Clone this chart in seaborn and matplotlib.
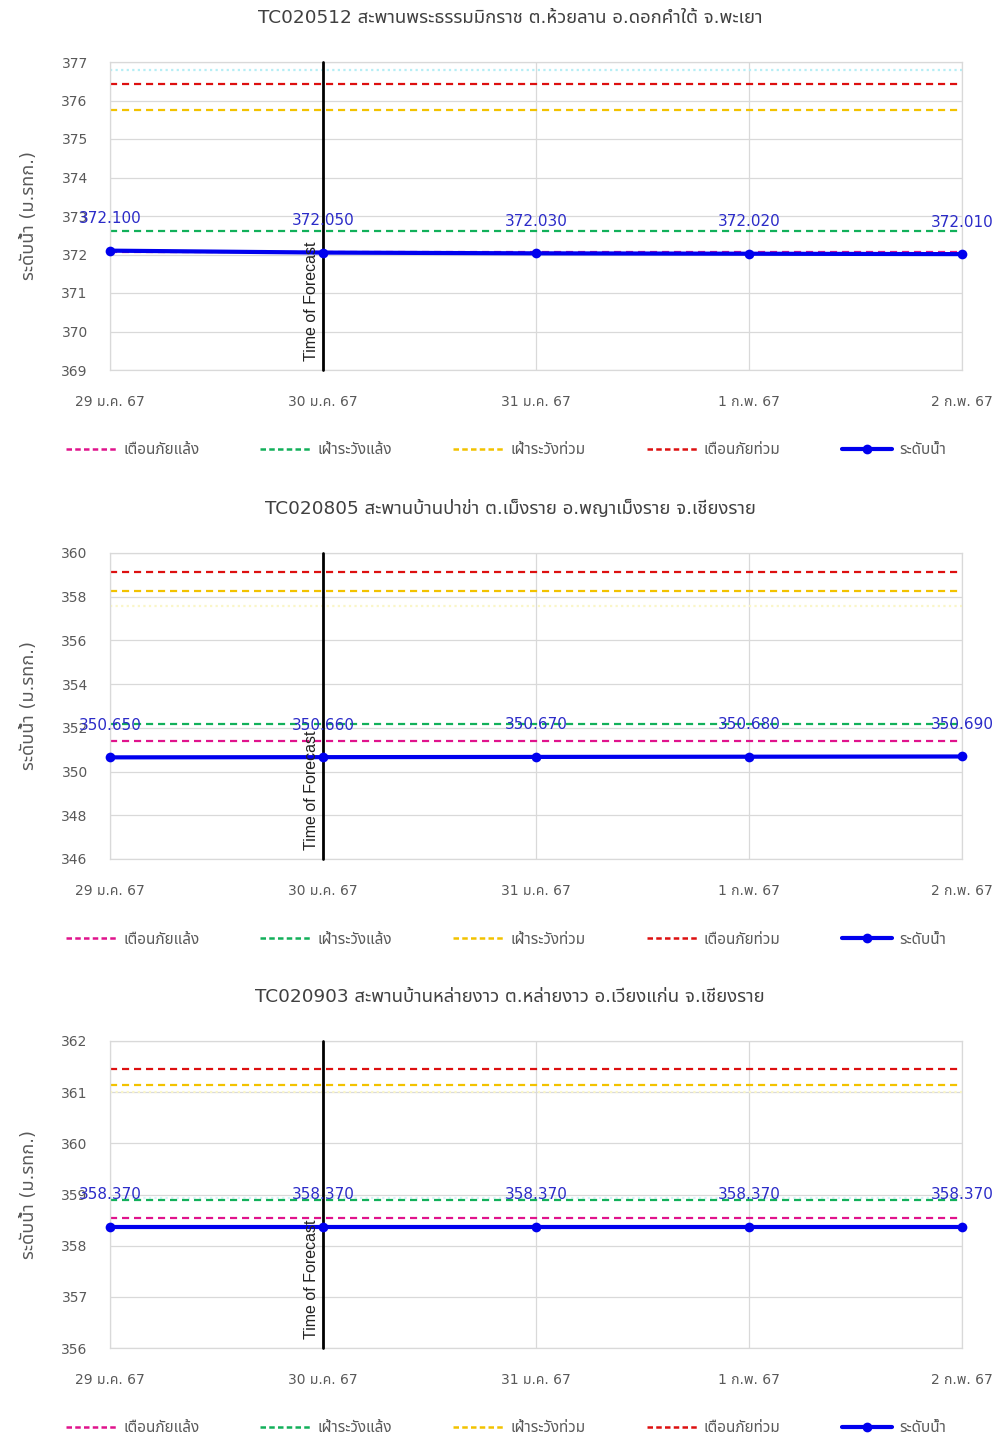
import matplotlib
matplotlib.use('Agg')
import matplotlib.pyplot as plt
from matplotlib import font_manager
from matplotlib.lines import Line2D
import pandas as pd
import seaborn as sns

# ---- data ----
dates = ['29 ม.ค. 67', '30 ม.ค. 67', '31 ม.ค. 67', '1 ก.พ. 67', '2 ก.พ. 67']
forecast_date = '30 ม.ค. 67'

titles = [
    'TC020512 สะพานพระธรรมมิกราช ต.ห้วยลาน อ.ดอกคำใต้ จ.พะเยา',
    'TC020805 สะพานบ้านป่าข่า ต.เม็งราย อ.พญาเม็งราย จ.เชียงราย',
    'TC020903 สะพานบ้านหล่ายงาว ต.หล่ายงาว อ.เวียงแก่น จ.เชียงราย',
]

levels_1 = [372.100, 372.050, 372.030, 372.020, 372.010]
levels_2 = [350.650, 350.660, 350.670, 350.680, 350.690]
levels_3 = [358.370, 358.370, 358.370, 358.370, 358.370]

# drought warning, drought watch, flood watch, flood warning
thresholds_1 = [372.06, 372.60, 375.75, 376.42]
thresholds_2 = [351.41, 352.18, 358.24, 359.13]
thresholds_3 = [358.55, 358.90, 361.14, 361.45]

# faint dotted reference lines (not in legend)
faint_1 = [(376.78, '#b5eef5')]
faint_2 = [(357.56, '#faf6c8')]
faint_3 = [(358.93, '#d5f5f7'), (361.00, '#faf6c8')]

yticks_1 = [369, 370, 371, 372, 373, 374, 375, 376, 377]
yticks_2 = [346, 348, 350, 352, 354, 356, 358, 360]
yticks_3 = [356, 357, 358, 359, 360, 361, 362]

threshold_labels = ['เตือนภัยแล้ง', 'เฝ้าระวังแล้ง', 'เฝ้าระวังท่วม', 'เตือนภัยท่วม']
level_label = 'ระดับน้ำ'
ylabel = 'ระดับน้ำ (ม.รทก.)'

threshold_colors = ['#e0138c', '#12b05a', '#f2c200', '#dd1010']
level_color = '#0000ee'
label_color = '#2b2bc8'
text_grey = '#595959'

# ---- style ----
sns.set_theme(style='whitegrid')
available = {f.name for f in font_manager.fontManager.ttflist}
thai_font = next((n for n in ['Tahoma', 'Noto Sans Thai', 'Noto Sans Thai Looped',
                              'IBM Plex Sans Thai', 'Sarabun', 'FreeSerif'] if n in available),
                 'DejaVu Sans')
plt.rcParams['font.family'] = ['DejaVu Sans', thai_font]
plt.rcParams['axes.unicode_minus'] = False

W, H = 998, 1439
fig = plt.figure(figsize=(W / 100, H / 100), dpi=100)

panels = [
    (levels_1, thresholds_1, faint_1, yticks_1, 62, 370),
    (levels_2, thresholds_2, faint_2, yticks_2, 553, 859),
    (levels_3, thresholds_3, faint_3, yticks_3, 1041, 1348),
]
x_left, x_right = 110, 962

for title, (levels, thresholds, faint, yticks, top, bottom) in zip(titles, panels):
    ax = fig.add_axes([x_left / W, 1 - bottom / H, (x_right - x_left) / W, (bottom - top) / H])
    df = pd.DataFrame({'x': range(len(dates)), 'date': dates, 'level': levels})

    for val, col in faint:
        ax.axhline(val, color=col, lw=1.6, ls=(0, (1, 1.5)), zorder=1)
    for val, col in zip(thresholds, threshold_colors):
        ax.axhline(val, color=col, lw=1.6, ls=(0, (3.2, 2.2)), zorder=2)

    fx = dates.index(forecast_date)
    ax.axvline(fx, color='black', lw=2, zorder=3)

    sns.lineplot(data=df, x='x', y='level', ax=ax, color=level_color, lw=3,
                 marker='o', markersize=7, markeredgewidth=0, zorder=4, legend=False)
    for ln in ax.lines:
        ln.set_clip_on(False)

    for _, r in df.iterrows():
        ax.annotate(f"{r['level']:.3f}", (r['x'], r['level']), xytext=(0, 23),
                    textcoords='offset points', ha='center', va='center',
                    fontsize=11, color=label_color, zorder=5)

    ax.text(fx - 0.055, yticks[0] + (yticks[-1] - yticks[0]) * 0.03, 'Time of Forecast',
            rotation=90, ha='center', va='bottom', fontsize=11.5,
            family=['Liberation Sans', 'DejaVu Sans'], color='#222222', zorder=5)

    ax.set_xlim(0, len(dates) - 1)
    ax.set_ylim(yticks[0], yticks[-1])
    ax.set_xticks(range(len(dates)))
    ax.set_xticklabels(dates)
    ax.set_yticks(yticks)
    ax.set_xlabel('')
    ax.set_ylabel(ylabel, fontsize=13, color=text_grey)
    ax.yaxis.set_label_coords(-0.085, 0.5)
    ax.tick_params(axis='x', pad=18, labelsize=10, colors=text_grey, length=0)
    ax.tick_params(axis='y', pad=16, labelsize=10, colors=text_grey, length=0)
    ax.grid(True, color='#d9d9d9', lw=0.9)
    for sp in ax.spines.values():
        sp.set_color('#d9d9d9')
        sp.set_linewidth(0.9)

    fig.text(510 / W, 1 - (top - 44) / H, title, ha='center', va='center',
             fontsize=13.3, color='#404040')

    handles = [Line2D([], [], color=c, lw=1.8, ls=(0, (2.2, 1.3))) for c in threshold_colors]
    handles.append(Line2D([], [], color=level_color, lw=3, marker='o', markersize=6,
                          markevery=[1]))
    labels = threshold_labels + [level_label]
    leg_y = 1 - (bottom + 80) / H
    fig.legend(handles, labels, loc='center left', ncol=5,
               bbox_to_anchor=(52 / W, leg_y), frameon=False, fontsize=11,
               handlelength=3.3, handletextpad=0.45, columnspacing=4.0,
               labelcolor=text_grey)

fig.savefig('out.png', dpi=100)
